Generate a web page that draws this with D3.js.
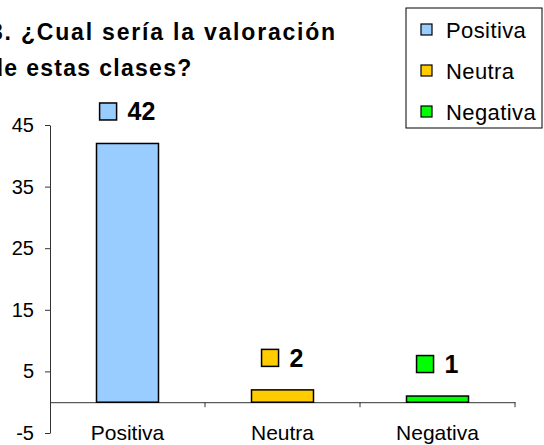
<!DOCTYPE html>
<html>
<head>
<meta charset="utf-8">
<script src="https://cdn.jsdelivr.net/npm/d3@7"></script>
<style>
  body { margin: 0; background: #fff; }
  svg { display: block; font-family: "Liberation Sans", Arial, sans-serif; }
</style>
</head>
<body>
<div class="chart"></div>
<script>
const categories = ["Positiva", "Neutra", "Negativa"]
const values = [42, 2, 1]
const colors = ["#99CCFF", "#FFCC00", "#00FF00"]
const yTicks = [-5, 5, 15, 25, 35, 45]
const titleLines = ["3. ¿Cual sería la valoración", "de estas clases?"]

const data = categories.map(function(c, i){ return {cat: c, value: values[i], color: colors[i]} })

const width = 544
const height = 445

const svg = d3.select(".chart")
	.append("svg")
	.attr("width", width)
	.attr("height", height)

const xScale = d3.scaleBand()
	.domain(categories)
	.range([50, 515])
	.paddingInner(0.6)
	.paddingOuter(0.3)

const yScale = d3.scaleLinear()
	.domain([-5, 45])
	.range([433, 125])

// Title (left part is clipped by the picture edge)
svg.append("text")
	.attr("y", 40)
	.attr("font-size", "23px")
	.attr("font-weight", "bold")
	.attr("letter-spacing", "1.8px")
	.selectAll("tspan")
	.data(titleLines)
	.enter()
	.append("tspan")
	.attr("x", function(d, i){ return i == 0 ? -10 : -11 })
	.attr("dy", function(d, i){ return i == 0 ? 0 : 36 })
	.attr("letter-spacing", function(d, i){ return i == 0 ? "1.8px" : "1.3px" })
	.text(function(d){ return d })

// Y axis
const yAxisCall = d3.axisLeft(yScale)
	.tickValues(yTicks)
	.tickFormat(function(d){ return String(d) })
	.tickSize(5)
	.tickSizeOuter(0)
	.tickPadding(11)

const yAxis = svg.append("g")
	.attr("class", "y axis")
	.attr("transform", "translate(50,0)")
	.call(yAxisCall)
yAxis.select(".domain").attr("stroke", "#333")
yAxis.selectAll(".tick line").attr("stroke", "#333")
yAxis.selectAll("text")
	.attr("font-size", "20px")
	.attr("font-family", "Liberation Sans, Arial, sans-serif")
	.attr("fill", "#000")

// X axis along zero
const xAxisCall = d3.axisBottom(xScale)
	.tickSize(0)
	.tickPadding(23)

const xAxis = svg.append("g")
	.attr("class", "x axis")
	.attr("transform", "translate(0," + yScale(0) + ")")
	.call(xAxisCall)
xAxis.select(".domain").attr("stroke", "#333")
xAxis.selectAll("text")
	.attr("font-size", "21px")
	.attr("font-family", "Liberation Sans, Arial, sans-serif")
	.attr("fill", "#000")

// category separator ticks
const gap = xScale.step() * xScale.paddingInner() / 2
const seps = categories.slice(1).map(function(c){ return xScale(c) - gap }).concat([xScale.range()[1]])
xAxis.selectAll("line.sep")
	.data(seps)
	.enter()
	.append("line")
	.attr("class", "sep")
	.attr("x1", function(d){ return d })
	.attr("x2", function(d){ return d })
	.attr("y1", 0)
	.attr("y2", 5)
	.attr("stroke", "#333")

// Bars
svg.selectAll("rect.bar")
	.data(data)
	.enter()
	.append("rect")
	.attr("class", "bar")
	.attr("x", function(d){ return xScale(d.cat) })
	.attr("y", function(d){ return yScale(d.value) })
	.attr("width", xScale.bandwidth())
	.attr("height", function(d){ return yScale(0) - yScale(d.value) })
	.attr("fill", function(d){ return d.color })
	.attr("stroke", "#000")
	.attr("stroke-width", 1.5)

// Value labels with colour key
const labels = svg.selectAll("g.vlabel")
	.data(data)
	.enter()
	.append("g")
	.attr("class", "vlabel")

labels.append("text")
	.attr("font-size", "25px")
	.attr("font-weight", "bold")
	.attr("y", function(d){ return yScale(d.value) - 23 })
	.text(function(d){ return d.value })

labels.each(function(d){
	const g = d3.select(this)
	const t = g.select("text")
	const tw = t.node().getComputedTextLength()
	const total = 17 + 11 + tw
	const left = xScale(d.cat) + xScale.bandwidth() / 2 - total / 2
	const cy = yScale(d.value) - 32
	g.append("rect")
		.attr("x", left)
		.attr("y", cy - 8.5)
		.attr("width", 17)
		.attr("height", 17)
		.attr("fill", d.color)
		.attr("stroke", "#000")
		.attr("stroke-width", 1.5)
	t.attr("x", left + 28)
})

// Legend
const legend = svg.append("g")
	.attr("transform", "translate(406,8)")

legend.append("rect")
	.attr("width", 136)
	.attr("height", 120)
	.attr("fill", "#fff")
	.attr("stroke", "#000")

const items = legend.selectAll("g.item")
	.data(data)
	.enter()
	.append("g")
	.attr("class", "item")
	.attr("transform", function(d, i){ return "translate(15," + (22 + i * 41) + ")" })

items.append("rect")
	.attr("x", 0)
	.attr("y", -6)
	.attr("width", 11)
	.attr("height", 11)
	.attr("fill", function(d){ return d.color })
	.attr("stroke", "#000")
	.attr("stroke-width", 1.2)

items.append("text")
	.attr("x", 25)
	.attr("y", 8)
	.attr("font-size", "22px")
	.attr("letter-spacing", "0.4px")
	.text(function(d){ return d.cat })
</script>
</body>
</html>
